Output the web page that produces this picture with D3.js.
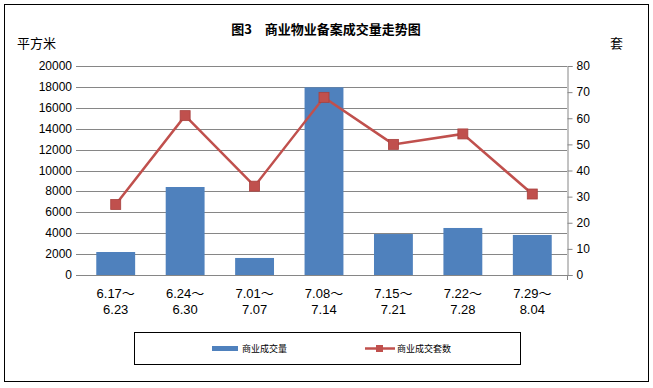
<!DOCTYPE html>
<html>
<head>
<meta charset="utf-8">
<script src="https://cdn.jsdelivr.net/npm/d3@7"></script>
<style>
  body { margin: 0; background: #fff; }
  text { font-family: "Liberation Sans", "Noto Sans CJK SC", sans-serif; }
  .cjk { font-family: "Noto Sans CJK SC", sans-serif; }
</style>
</head>
<body>
<script>
// #Chart data
const periods = ['6.17～|6.23', '6.24～|6.30', '7.01～|7.07', '7.08～|7.14', '7.15～|7.21', '7.22～|7.28', '7.29～|8.04'];
const area = [2200, 8420, 1630, 17960, 3920, 4500, 3830];
const units = [27, 61, 34, 68, 50, 54, 31];
const leftTicks = [0, 2000, 4000, 6000, 8000, 10000, 12000, 14000, 16000, 18000, 20000];
const rightTicks = [0, 10, 20, 30, 40, 50, 60, 70, 80];

const width = 653, height = 388;
const margin = {left: 81, right: 86, top: 66, bottom: 113};

const svg = d3.select('body')
              .append('svg')
              .attr('width', width)
              .attr('height', height);

// #Outer frame
svg.append('rect')
   .attr('x', 4.5).attr('y', 4.5)
   .attr('width', 644).attr('height', 377)
   .attr('fill', '#fff')
   .attr('stroke', '#000');

// #Scales
const x = d3.scaleBand()
            .domain(periods)
            .range([margin.left, width - margin.right])
            .paddingInner(0.44)
            .paddingOuter(0.22);

const yL = d3.scaleLinear().domain([0, 20000]).range([height - margin.bottom, margin.top]);
const yR = d3.scaleLinear().domain([0, 80]).range([height - margin.bottom, margin.top]);

// #Grid lines
svg.append('g')
   .selectAll('line')
   .data(leftTicks)
   .enter()
   .append('line')
   .attr('x1', margin.left - 5)
   .attr('x2', width - margin.right)
   .attr('y1', d => Math.round(yL(d)) + 0.5)
   .attr('y2', d => Math.round(yL(d)) + 0.5)
   .attr('stroke', '#868686');

// #Left axis labels
svg.append('g')
   .selectAll('text')
   .data(leftTicks)
   .enter()
   .append('text')
   .attr('x', margin.left - 9)
   .attr('y', d => yL(d) + 4)
   .attr('text-anchor', 'end')
   .attr('font-size', 12)
   .text(d => d);

// #Right axis
const rightAxis = d3.axisRight(yR)
                    .tickValues(rightTicks)
                    .tickSize(5)
                    .tickPadding(4);
const gR = svg.append('g')
              .attr('transform', 'translate(' + (width - margin.right + 0.5) + ',0)')
              .call(rightAxis);
gR.select('.domain').attr('stroke', '#868686');
gR.selectAll('line').attr('stroke', '#868686');
gR.selectAll('text').attr('font-size', 12).attr('fill', '#000')
  .attr('font-family', '"Liberation Sans", sans-serif');

// #Bottom tick at the right end
svg.append('line')
   .attr('x1', width - margin.right + 0.5).attr('x2', width - margin.right + 0.5)
   .attr('y1', yL(0)).attr('y2', yL(0) + 5)
   .attr('stroke', '#868686');

// #Bars
svg.append('g')
   .selectAll('rect')
   .data(area)
   .enter()
   .append('rect')
   .attr('x', (d, i) => x(periods[i]))
   .attr('y', d => yL(d))
   .attr('width', x.bandwidth())
   .attr('height', d => yL(0) - yL(d))
   .attr('fill', '#4F81BD');

// #Line
const cx = i => x(periods[i]) + x.bandwidth() / 2;
const line = d3.line()
               .x((d, i) => cx(i))
               .y(d => yR(d));

svg.append('path')
   .datum(units)
   .attr('d', line)
   .attr('fill', 'none')
   .attr('stroke', '#C0504D')
   .attr('stroke-width', 2.5);

svg.append('g')
   .selectAll('rect')
   .data(units)
   .enter()
   .append('rect')
   .attr('x', (d, i) => cx(i) - 5)
   .attr('y', d => yR(d) - 5)
   .attr('width', 10)
   .attr('height', 10)
   .attr('fill', '#C0504D')
   .attr('stroke', '#A8403D')
   .attr('stroke-width', 0.8);

// #Category labels
const catLabels = svg.append('g')
                     .selectAll('text')
                     .data(periods)
                     .enter()
                     .append('text')
                     .attr('font-size', 13)
                     .attr('text-anchor', 'middle');
catLabels.append('tspan')
         .attr('x', d => x(d) + x.bandwidth() / 2)
         .attr('y', 298)
         .text(d => d.split('|')[0]);
catLabels.append('tspan')
         .attr('x', d => x(d) + x.bandwidth() / 2)
         .attr('y', 314)
         .text(d => d.split('|')[1]);

// #Titles
svg.append('text')
   .attr('class', 'cjk')
   .attr('x', 326).attr('y', 34)
   .attr('text-anchor', 'middle')
   .attr('font-size', 13)
   .attr('font-weight', 'bold')
   .text('图3　商业物业备案成交量走势图');

svg.append('text')
   .attr('class', 'cjk')
   .attr('x', 17).attr('y', 48)
   .attr('font-size', 13)
   .text('平方米');

svg.append('text')
   .attr('class', 'cjk')
   .attr('x', 610).attr('y', 48)
   .attr('font-size', 13)
   .text('套');

// #Legend
const legend = svg.append('g');
legend.append('rect')
      .attr('x', 134.5).attr('y', 332.5)
      .attr('width', 386).attr('height', 32)
      .attr('fill', '#fff')
      .attr('stroke', '#000');

legend.append('rect')
      .attr('x', 212).attr('y', 346)
      .attr('width', 26).attr('height', 5)
      .attr('fill', '#4F81BD');
legend.append('text')
      .attr('class', 'cjk')
      .attr('x', 242).attr('y', 352)
      .attr('font-size', 9)
      .text('商业成交量');

legend.append('line')
      .attr('x1', 365).attr('x2', 395)
      .attr('y1', 348.5).attr('y2', 348.5)
      .attr('stroke', '#C0504D')
      .attr('stroke-width', 2.5);
legend.append('rect')
      .attr('x', 376).attr('y', 345)
      .attr('width', 7).attr('height', 7)
      .attr('fill', '#C0504D');
legend.append('text')
      .attr('class', 'cjk')
      .attr('x', 397).attr('y', 352)
      .attr('font-size', 9)
      .text('商业成交套数');
</script>
</body>
</html>
